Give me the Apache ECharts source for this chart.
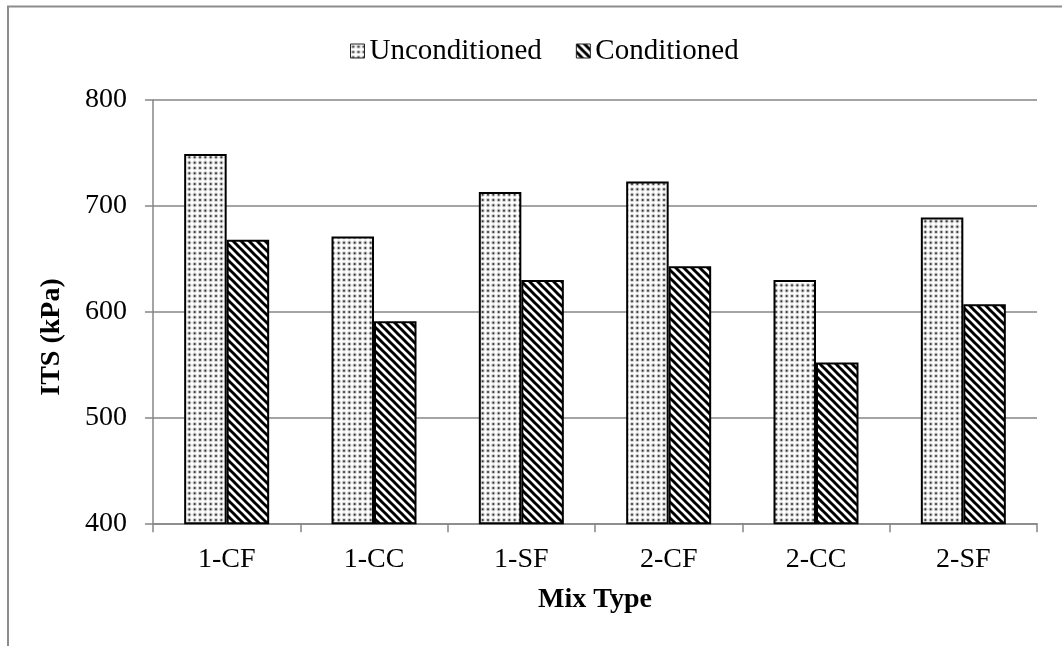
<!DOCTYPE html>
<html>
<head>
<meta charset="utf-8">
<script src="https://cdn.jsdelivr.net/npm/echarts@6/dist/echarts.min.js"></script>
<style>
  html, body { margin: 0; padding: 0; background: #fff; }
  #chart { width: 1062px; height: 646px; }
</style>
</head>
<body>
<div id="chart"></div>
<script>
// Indirect tensile strength per mix type
const mixTypes = ['1-CF', '1-CC', '1-SF', '2-CF', '2-CC', '2-SF'];
const unconditioned = [749, 671, 713, 723, 630, 689];
const conditioned = [668, 591, 630, 643, 552, 607];
const seriesNames = ['Unconditioned', 'Conditioned'];
const yTicks = [400, 500, 600, 700, 800];

const FONT = '"Liberation Serif", "Times New Roman", serif';
const AXIS_GRAY = '#868686';

// Fine dot fill
function dotPattern() {
  const c = document.createElement('canvas');
  c.width = 16; c.height = 16;
  const g = c.getContext('2d');
  g.fillStyle = '#ffffff';
  g.fillRect(0, 0, 16, 16);
  const step = 16 / 3;
  for (let i = 0; i < 3; i++) {
    for (let j = 0; j < 3; j++) {
      const cx = step * i + step / 2, cy = step * j + step / 2;
      g.fillStyle = '#c4c4c4';
      g.beginPath(); g.arc(cx, cy, 2.1, 0, Math.PI * 2); g.fill();
      g.fillStyle = '#3a3a3a';
      g.beginPath(); g.arc(cx, cy, 1.0, 0, Math.PI * 2); g.fill();
    }
  }
  return { image: c, repeat: 'repeat' };
}

// Downward diagonal stripes
function stripePattern() {
  const s = 8;
  const c = document.createElement('canvas');
  c.width = s; c.height = s;
  const g = c.getContext('2d');
  g.fillStyle = '#ffffff';
  g.fillRect(0, 0, s, s);
  g.strokeStyle = '#000000';
  g.lineWidth = 3;
  for (let k = -1; k <= 1; k++) {
    g.beginPath();
    g.moveTo(k * s - 1, -1);
    g.lineTo(k * s + s + 1, s + 1);
    g.stroke();
  }
  return { image: c, repeat: 'repeat' };
}

const chart = echarts.init(document.getElementById('chart'), null, { renderer: 'canvas' });

chart.setOption({
  animation: false,
  backgroundColor: '#ffffff',
  textStyle: { fontFamily: FONT },
  grid: { left: 153, right: 25, top: 100, bottom: 122.7, containLabel: false },
  legend: {
    data: seriesNames,
    left: 345,
    top: 31,
    itemWidth: 14,
    itemHeight: 14,
    itemGap: 34,
    icon: 'rect',
    itemStyle: { borderColor: '#222', borderWidth: 1 },
    textStyle: { fontFamily: FONT, fontSize: 29, color: '#000', lineHeight: 30 }
  },
  xAxis: {
    type: 'category',
    data: mixTypes,
    name: 'Mix Type',
    nameLocation: 'middle',
    nameGap: 62,
    nameTextStyle: { fontFamily: FONT, fontSize: 28, fontWeight: 'bold', color: '#000' },
    axisLine: { show: true, lineStyle: { color: AXIS_GRAY, width: 1.5 } },
    axisTick: { show: true, length: 9, lineStyle: { color: AXIS_GRAY, width: 1.5 } },
    axisLabel: { fontFamily: FONT, fontSize: 28, color: '#000', margin: 22 }
  },
  yAxis: {
    type: 'value',
    min: yTicks[0],
    max: yTicks[yTicks.length - 1],
    interval: 100,
    axisLine: { show: true, lineStyle: { color: AXIS_GRAY, width: 1.5 } },
    axisTick: { show: true, length: 8, lineStyle: { color: AXIS_GRAY, width: 1.5 } },
    axisLabel: { fontFamily: FONT, fontSize: 28, color: '#000', margin: 26 },
    splitLine: { show: true, lineStyle: { color: AXIS_GRAY, width: 1.5 } }
  },
  series: [
    {
      name: seriesNames[0],
      type: 'bar',
      data: unconditioned,
      barWidth: 42.5,
      barGap: '0%',
      itemStyle: { color: dotPattern(), borderColor: '#000', borderWidth: 2 }
    },
    {
      name: seriesNames[1],
      type: 'bar',
      data: conditioned,
      barWidth: 42.5,
      barGap: '0%',
      itemStyle: { color: stripePattern(), borderColor: '#000', borderWidth: 2 }
    }
  ],
  graphic: [
    {
      type: 'polyline',
      silent: true,
      shape: { points: [[8, 646], [8, 6.5], [1062, 6.5]] },
      style: { stroke: '#8c8c8c', lineWidth: 2, fill: null }
    },
    {
      type: 'text',
      silent: true,
      x: 52,
      y: 337,
      rotation: Math.PI / 2,
      style: {
        text: 'ITS (kPa)',
        font: 'bold 28px ' + FONT,
        fill: '#000',
        textAlign: 'center',
        textVerticalAlign: 'middle',
        align: 'center',
        verticalAlign: 'middle'
      }
    }
  ]
});
</script>
</body>
</html>
